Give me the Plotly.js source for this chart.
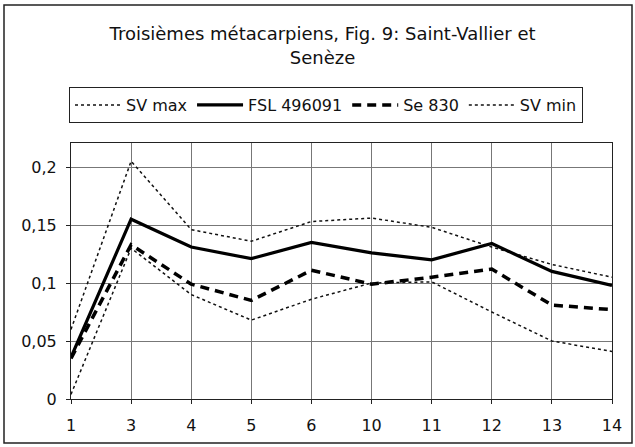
<!DOCTYPE html>
<html>
<head>
<meta charset="utf-8">
<script src="https://cdn.plot.ly/plotly-3.0.1.min.js"></script>
<style>html,body{margin:0;padding:0;background:#fff;}#chart{width:635px;height:447px;}</style>
</head>
<body>
<div id="chart"></div>
<script>
const categories = ["1","3","4","5","6","10","11","12","13","14"];
const svMax   = [0.060, 0.205, 0.146, 0.136, 0.153, 0.156, 0.148, 0.131, 0.116, 0.105];
const fsl     = [0.036, 0.155, 0.131, 0.121, 0.135, 0.126, 0.120, 0.134, 0.110, 0.098];
const se830   = [0.035, 0.133, 0.099, 0.085, 0.111, 0.099, 0.105, 0.112, 0.081, 0.077];
const svMin   = [0.004, 0.130, 0.090, 0.068, 0.086, 0.100, 0.101, 0.075, 0.050, 0.041];
const seriesNames = ["SV max", "FSL 496091", "Se 830", "SV min"];
const yTicks = [0, 0.05, 0.1, 0.15, 0.2];

const L = 71, R = 612, T = 143, B = 399, W = 635, H = 447;
const px = v => (v - L) / (R - L);
const py = v => (B - v) / (B - T);

const traces = [
  {x: categories, y: svMax, name: seriesNames[0], mode: "lines", line: {color: "#111", width: 1.5, dash: "3px,3px"}},
  {x: categories, y: fsl, name: seriesNames[1], mode: "lines", line: {color: "#000", width: 3.2}},
  {x: categories, y: se830, name: seriesNames[2], mode: "lines", line: {color: "#000", width: 3.5, dash: "9px,6px"}},
  {x: categories, y: svMin, name: seriesNames[3], mode: "lines", line: {color: "#111", width: 1.5, dash: "3px,3px"}}
];

const layout = {
  width: W, height: H,
  margin: {l: L, r: W - R, t: T, b: H - B, pad: 0},
  paper_bgcolor: "#fff", plot_bgcolor: "#fff",
  font: {family: "DejaVu Sans, Verdana, sans-serif", color: "#111", size: 16},
  separators: ", ",
  showlegend: true,
  title: {text: "Troisièmes métacarpiens, Fig. 9: Saint-Vallier et<br>Senèze", x: 0.508, xanchor: "center",
          yref: "container", y: 0.91, yanchor: "top", font: {size: 18, color: "#111"}},
  legend: {orientation: "h", x: px(326), xanchor: "center", y: py(87), yanchor: "top",
           bordercolor: "#222", borderwidth: 1, font: {size: 16}, tracegroupgap: 0,
           itemwidth: 46},
  xaxis: {type: "category", range: [0, 9], showgrid: true, gridcolor: "#777", gridwidth: 1,
          showline: true, linecolor: "#222", linewidth: 1, mirror: true,
          ticks: "outside", ticklen: 4, tickcolor: "#222", ticklabelstandoff: 8,
          zeroline: false, fixedrange: true},
  yaxis: {range: [0, 0.2207], tickvals: yTicks, showgrid: true, gridcolor: "#777", gridwidth: 1,
          showline: true, linecolor: "#222", linewidth: 1, mirror: true,
          ticks: "outside", ticklen: 4, tickcolor: "#222", ticklabelstandoff: 6,
          zeroline: false, fixedrange: true},
  shapes: [
    {type: "rect", xref: "paper", yref: "paper", x0: px(4), x1: px(632), y0: py(443), y1: py(5),
     line: {color: "#222", width: 1.5}, fillcolor: "rgba(0,0,0,0)"}
  ]
};

Plotly.newPlot("chart", traces, layout, {staticPlot: true});
</script>
</body>
</html>
